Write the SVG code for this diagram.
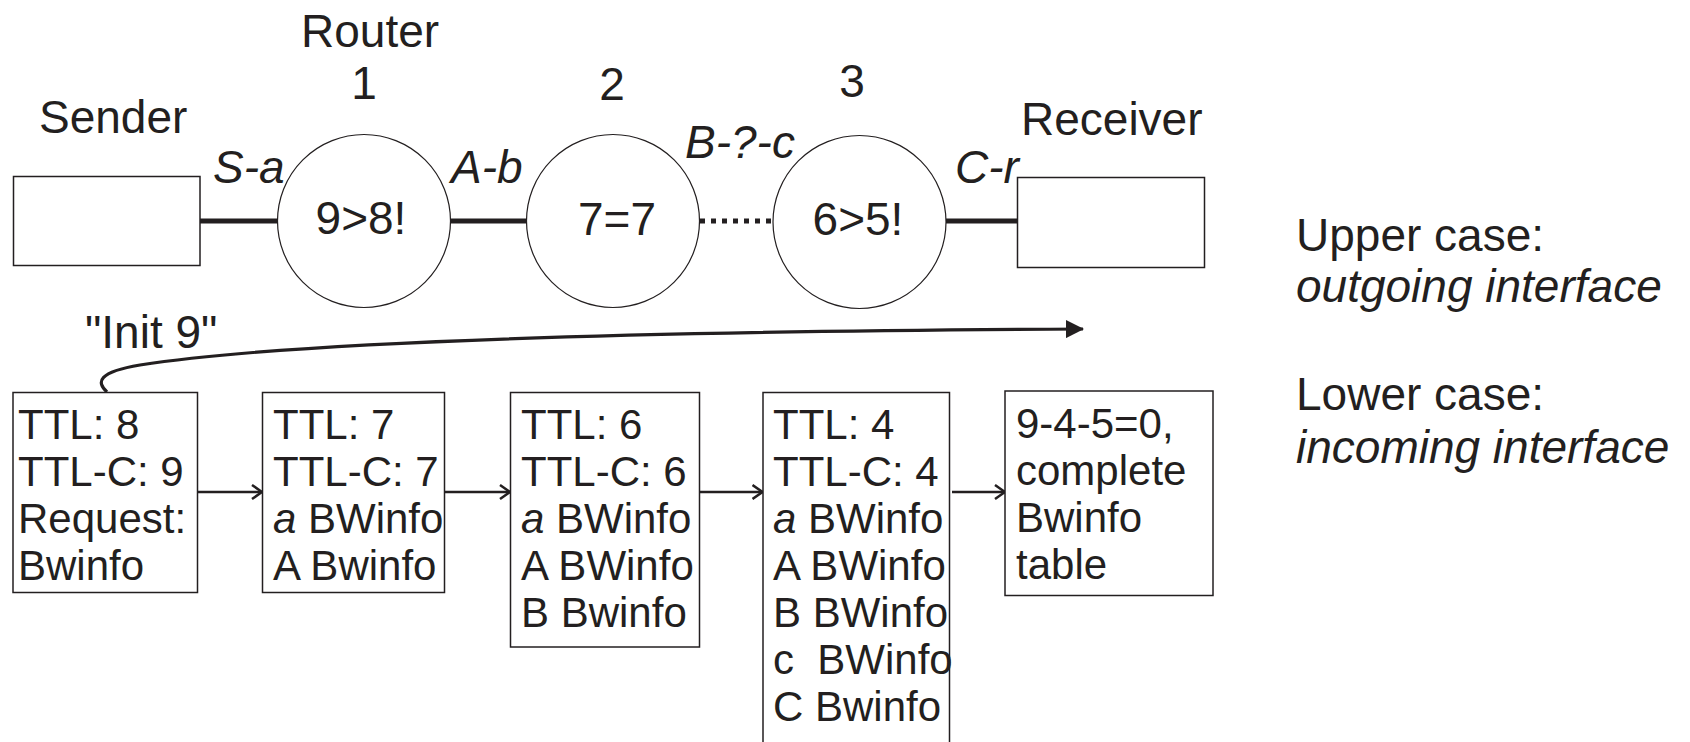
<svg xmlns="http://www.w3.org/2000/svg" width="1690" height="742" viewBox="0 0 1690 742">
  <style>
    text { font-family: "Liberation Sans", Arial, sans-serif; fill: #231f20; }
    .lbl { font-size: 46px; }
    .it { font-style: italic; }
    .box-txt { font-size: 42px; }
    .box { fill: #ffffff; stroke: #231f20; stroke-width: 1.5; }
    .router { fill: #ffffff; stroke: #231f20; stroke-width: 1.2; }
    .link { stroke: #231f20; stroke-width: 5; fill: none; }
    .step { stroke: #231f20; stroke-width: 2.5; fill: none; marker-end: url(#chev); }
  </style>
  <defs>
    <marker id="chev" viewBox="0 0 12 16" refX="11" refY="8" markerWidth="12" markerHeight="16" markerUnits="userSpaceOnUse" orient="auto">
      <path d="M1 1 L11 8 L1 15" fill="none" stroke="#231f20" stroke-width="2.5"/>
    </marker>
    <marker id="tri" viewBox="0 0 18 18" refX="17" refY="9" markerWidth="18" markerHeight="18" markerUnits="userSpaceOnUse" orient="auto">
      <path d="M0 0 L18 9 L0 18 Z" fill="#231f20"/>
    </marker>
  </defs>
  <rect width="1690" height="742" fill="#ffffff"/>

  <!-- links between hosts and routers -->
  <g id="connectors">
    <line class="link" x1="200" y1="221" x2="277.5" y2="221"/>
    <line class="link" x1="450.5" y1="221" x2="526.5" y2="221"/>
    <line class="link" x1="700" y1="221" x2="772.5" y2="221" stroke-dasharray="5 6"/>
    <line class="link" x1="946" y1="221" x2="1017.5" y2="221"/>
    <!-- message path from the sender -->
    <path d="M107 392 C96 382 98 372 140 365 C300 340 700 331 1083 329" fill="none" stroke="#231f20" stroke-width="3.2" marker-end="url(#tri)"/>
    <!-- hop-by-hop state arrows -->
    <line class="step" x1="197.5" y1="492" x2="262" y2="492"/>
    <line class="step" x1="444.5" y1="492" x2="510" y2="492"/>
    <line class="step" x1="699.5" y1="492" x2="762.5" y2="492"/>
    <line class="step" x1="952" y1="492" x2="1005" y2="492"/>
  </g>

  <g id="sender">
    <text class="lbl" x="39" y="133">Sender</text>
    <rect class="box" x="13.5" y="176.5" width="186.5" height="89"/>
  </g>

  <g id="receiver">
    <text class="lbl" x="1021" y="135">Receiver</text>
    <rect class="box" x="1017.5" y="177.5" width="187" height="90"/>
  </g>

  <g id="router1">
    <text class="lbl" x="301" y="47">Router</text>
    <text class="lbl" x="364" y="99" text-anchor="middle">1</text>
    <circle class="router" cx="364" cy="221" r="86.5"/>
    <text class="lbl" x="361" y="234" text-anchor="middle">9&gt;8!</text>
  </g>

  <g id="router2">
    <text class="lbl" x="612" y="100" text-anchor="middle">2</text>
    <circle class="router" cx="613" cy="221" r="86.5"/>
    <text class="lbl" x="617" y="235" text-anchor="middle">7=7</text>
  </g>

  <g id="router3">
    <text class="lbl" x="852" y="97" text-anchor="middle">3</text>
    <circle class="router" cx="859.5" cy="222" r="86.5"/>
    <text class="lbl" x="858" y="235" text-anchor="middle">6&gt;5!</text>
  </g>

  <!-- interface labels -->
  <g id="interfaces">
    <text class="lbl it" x="213" y="183">S-a</text>
    <text class="lbl it" x="451" y="183">A-b</text>
    <text class="lbl it" x="685" y="158">B-?-c</text>
    <text class="lbl it" x="955" y="183">C-r</text>
  </g>

  <g id="init-label">
    <text class="lbl" x="85" y="348">"Init 9"</text>
  </g>

  <g id="state1">
    <rect class="box" x="13" y="392.5" width="184.5" height="200"/>
    <text class="box-txt">
      <tspan x="18" y="439">TTL: 8</tspan>
      <tspan x="18" y="486">TTL-C: 9</tspan>
      <tspan x="18" y="533">Request:</tspan>
      <tspan x="18" y="580">Bwinfo</tspan>
    </text>
  </g>

  <g id="state2">
    <rect class="box" x="262.5" y="392.5" width="182" height="200"/>
    <text class="box-txt">
      <tspan x="273" y="439">TTL: 7</tspan>
      <tspan x="273" y="486">TTL-C: 7</tspan>
      <tspan x="273" y="533"><tspan class="it">a</tspan> BWinfo</tspan>
      <tspan x="273" y="580">A Bwinfo</tspan>
    </text>
  </g>

  <g id="state3">
    <rect class="box" x="510.5" y="392.5" width="189" height="254.5"/>
    <text class="box-txt">
      <tspan x="521" y="439">TTL: 6</tspan>
      <tspan x="521" y="486">TTL-C: 6</tspan>
      <tspan x="521" y="533"><tspan class="it">a</tspan> BWinfo</tspan>
      <tspan x="521" y="580">A BWinfo</tspan>
      <tspan x="521" y="627">B Bwinfo</tspan>
    </text>
  </g>

  <g id="state4">
    <rect class="box" x="763" y="392.5" width="186.5" height="360"/>
    <text class="box-txt" xml:space="preserve"><tspan x="773" y="439">TTL: 4</tspan><tspan x="773" y="486">TTL-C: 4</tspan><tspan x="773" y="533"><tspan class="it">a</tspan> BWinfo</tspan><tspan x="773" y="580">A BWinfo</tspan><tspan x="773" y="627">B BWinfo</tspan><tspan x="773" y="674">c  BWinfo</tspan><tspan x="773" y="721">C Bwinfo</tspan></text>
  </g>

  <g id="state5">
    <rect class="box" x="1005" y="391" width="208" height="204.5"/>
    <text class="box-txt">
      <tspan x="1016" y="438">9-4-5=0,</tspan>
      <tspan x="1016" y="485">complete</tspan>
      <tspan x="1016" y="532">Bwinfo</tspan>
      <tspan x="1016" y="579">table</tspan>
    </text>
  </g>

  <g id="legend">
    <text class="lbl" x="1296" y="251">Upper case:</text>
    <text class="lbl it" x="1296" y="302">outgoing interface</text>
    <text class="lbl" x="1296" y="410">Lower case:</text>
    <text class="lbl it" x="1296" y="463">incoming interface</text>
  </g>
</svg>
